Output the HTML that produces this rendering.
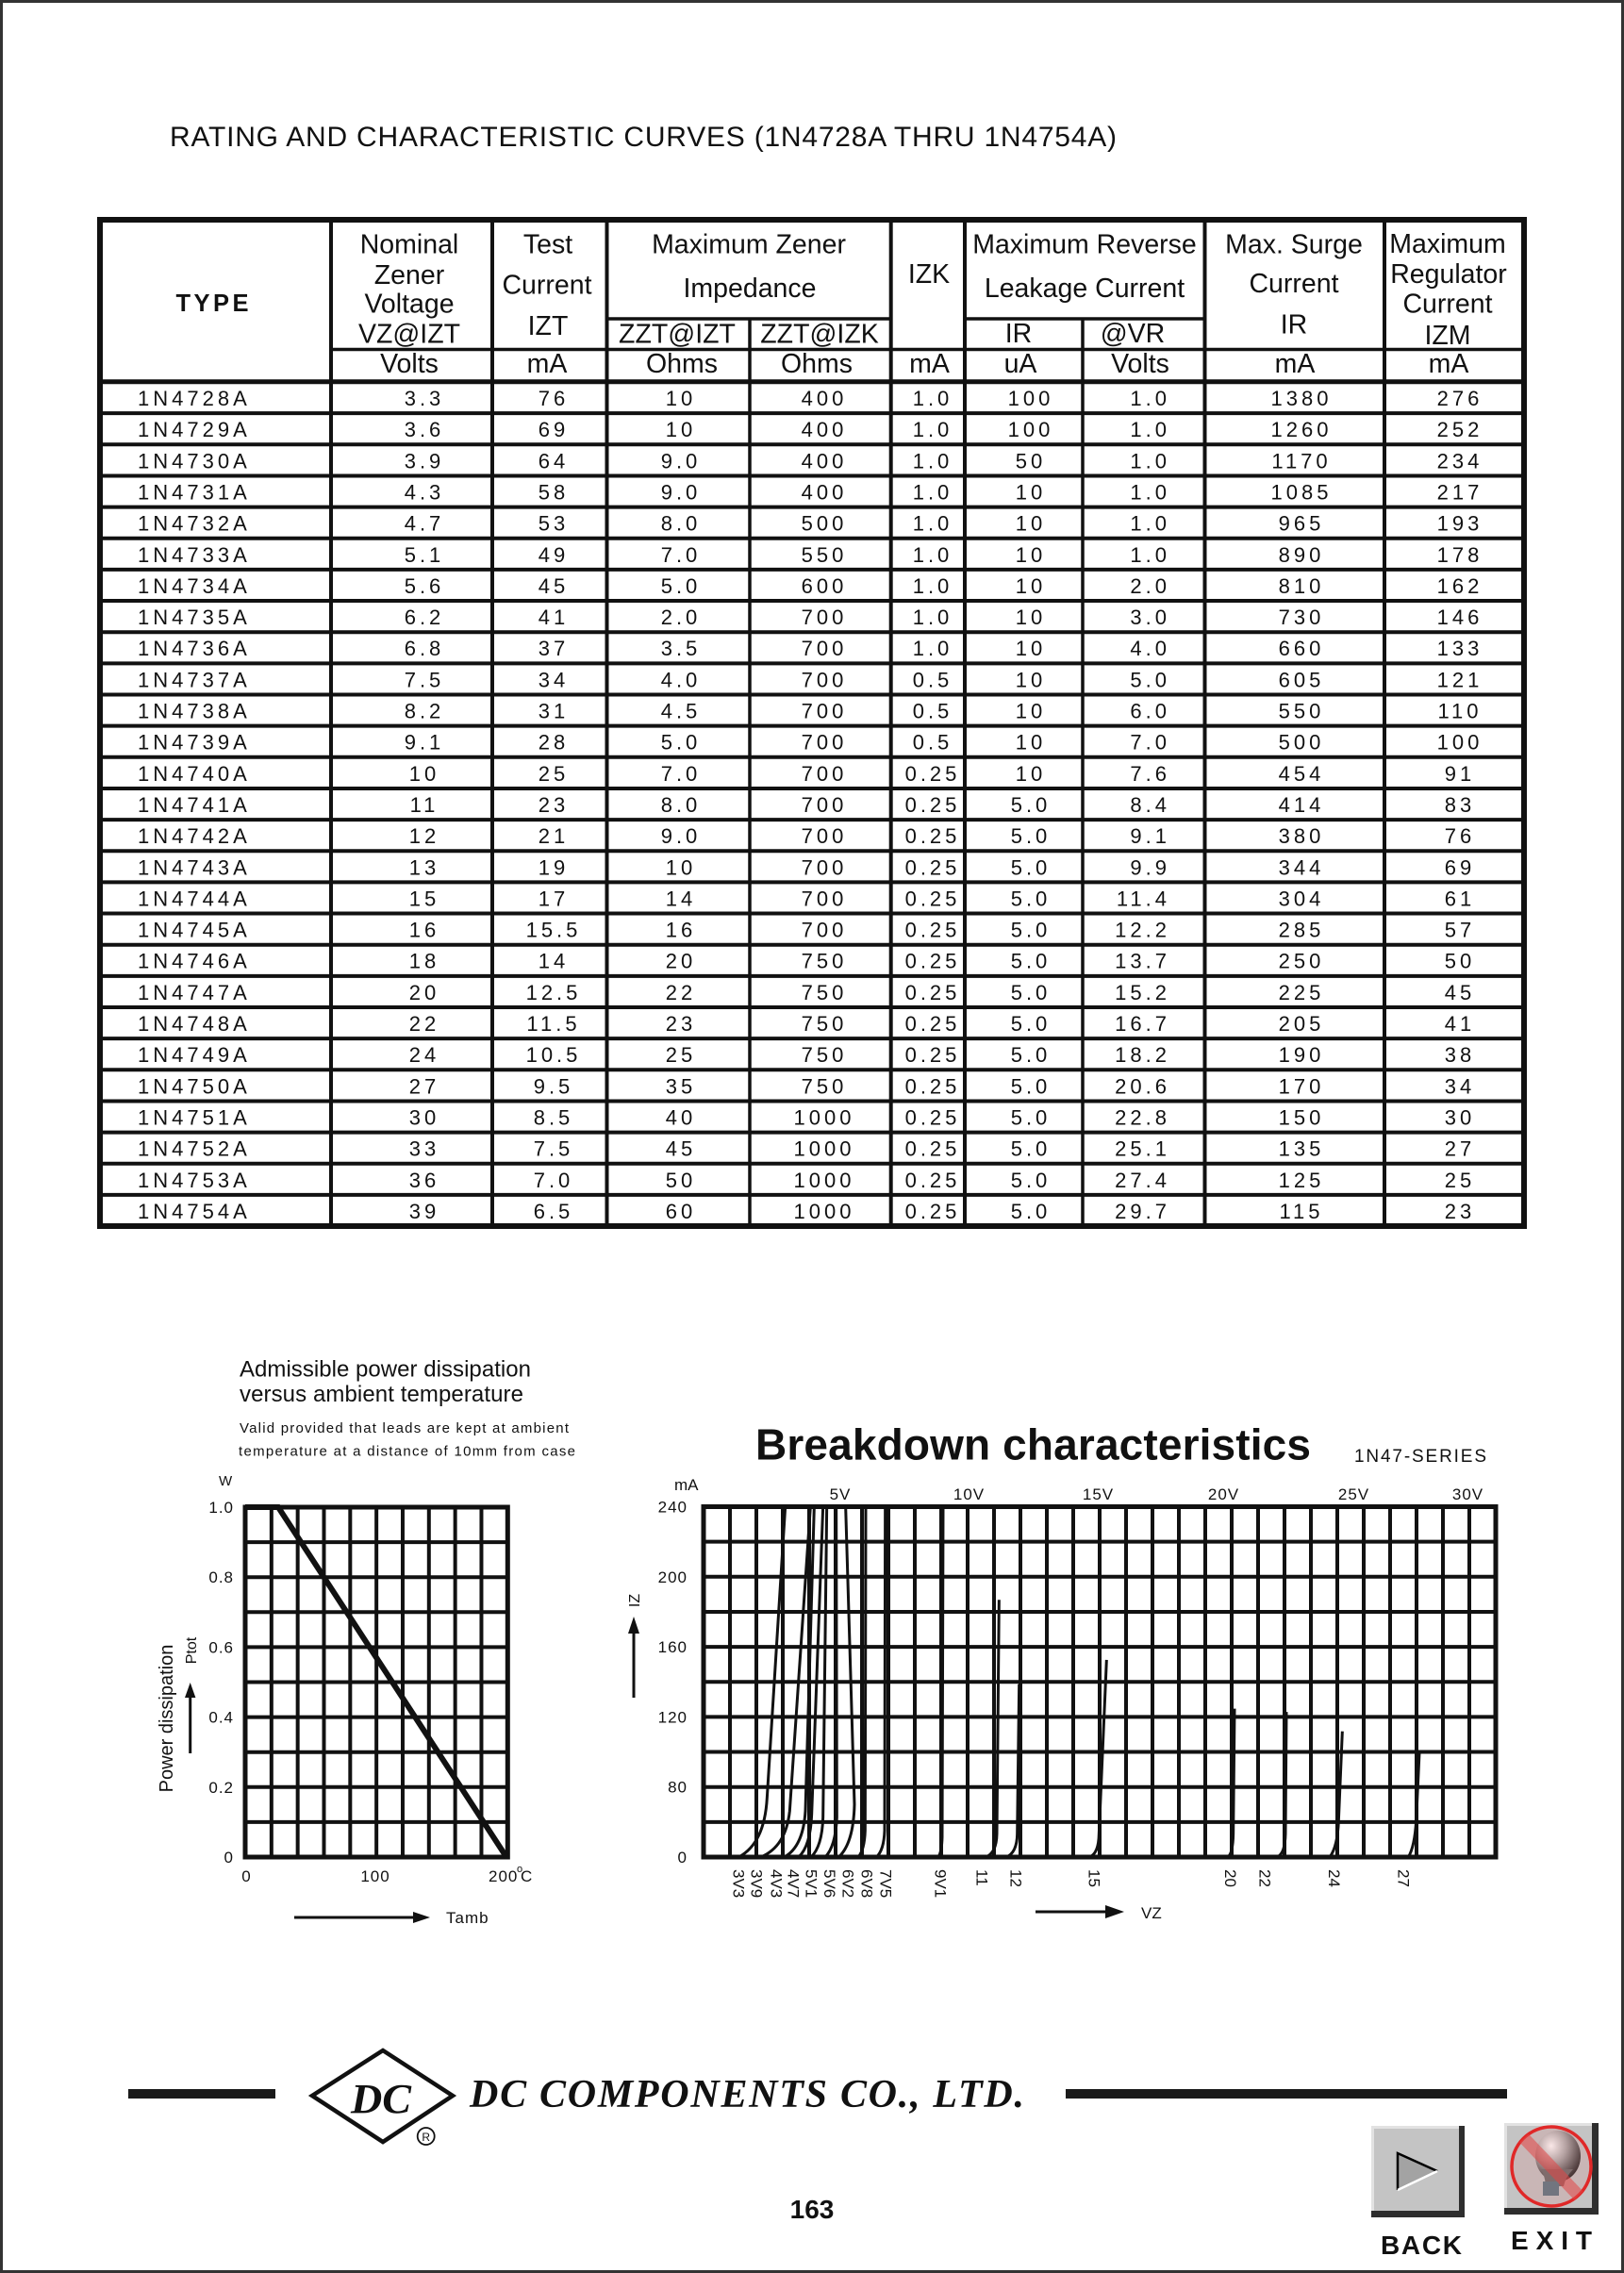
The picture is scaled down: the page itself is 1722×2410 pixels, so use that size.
<!DOCTYPE html>
<html><head><meta charset="utf-8">
<style>
html,body{margin:0;padding:0;background:#fff}
svg{display:block}
text{font-family:"Liberation Sans",Arial,sans-serif;fill:#111}
.d{font-size:22px;letter-spacing:4px}
.h{font-size:28.5px}
.m{text-anchor:middle}
.e{text-anchor:end}
.c path{vector-effect:non-scaling-stroke}
.ax{font-size:17px;letter-spacing:1px}
</style></head><body>
<svg width="1722" height="2410" viewBox="0 0 1722 2410" xmlns="http://www.w3.org/2000/svg">
<defs>
<radialGradient id="bg" cx="0.35" cy="0.3" r="0.75"><stop offset="0" stop-color="#fff"/><stop offset="0.45" stop-color="#a8a8a8"/><stop offset="1" stop-color="#222"/></radialGradient>
</defs>
<rect x="1.5" y="1.5" width="1719" height="2407" fill="none" stroke="#333" stroke-width="3"/>

<text x="180" y="155" font-size="30" textLength="1004" lengthAdjust="spacing">RATING AND CHARACTERISTIC CURVES (1N4728A THRU 1N4754A)</text>

<!-- TABLE LINES -->
<g stroke="#111" fill="none">
<rect x="106" y="233" width="1510" height="1067" stroke-width="6"/>
<path stroke-width="4" d="M351,233V1300M522,233V1300M643.5,233V1300M944.7,233V1300M1023,233V1300M1277.5,233V1300M1468,233V1300"/>
<path stroke-width="3.5" d="M795,338V1300M1148,338V1300M643.5,338H944.7M1023,338H1277.5M351,370.5H1616"/>
<path stroke-width="5" d="M106,404.8H1616"/>
<path stroke-width="4" d="M106,438.15H1616M106,471.3H1616M106,504.45H1616M106,537.6H1616M106,570.75H1616M106,603.9H1616M106,637.05H1616M106,670.2H1616M106,703.35H1616M106,736.5H1616M106,769.65H1616M106,802.8H1616M106,835.95H1616M106,869.1H1616M106,902.25H1616M106,935.4H1616M106,968.55H1616M106,1001.7H1616M106,1034.85H1616M106,1068H1616M106,1101.15H1616M106,1134.3H1616M106,1167.45H1616M106,1200.6H1616M106,1233.75H1616M106,1266.9H1616"/>
</g>

<!-- HEADER TEXT -->
<text x="225" y="330" font-size="25.5" font-weight="bold" class="m" textLength="77" lengthAdjust="spacing">TYPE</text>
<g class="h m">
<text x="434" y="268.3">Nominal</text>
<text x="434" y="301">Zener</text>
<text x="434" y="331.7">Voltage</text>
<text x="434" y="363.3">VZ@IZT</text>
<text x="434" y="395">Volts</text>
<text x="581" y="268.3">Test</text>
<text x="580" y="311.7">Current</text>
<text x="581" y="355">IZT</text>
<text x="580" y="395">mA</text>
<text x="794" y="268.3">Maximum Zener</text>
<text x="795" y="315">Impedance</text>
<text x="718" y="363.3">ZZT@IZT</text>
<text x="869" y="363.3">ZZT@IZK</text>
<text x="723" y="395">Ohms</text>
<text x="866" y="395">Ohms</text>
<text x="985" y="300">IZK</text>
<text x="985.5" y="395">mA</text>
<text x="1150" y="268.3">Maximum Reverse</text>
<text x="1150" y="315">Leakage Current</text>
<text x="1080" y="363">IR</text>
<text x="1201" y="363">@VR</text>
<text x="1082" y="395">uA</text>
<text x="1209" y="395">Volts</text>
<text x="1372" y="268.3">Max. Surge</text>
<text x="1372" y="310">Current</text>
<text x="1372" y="353.3">IR</text>
<text x="1373" y="395">mA</text>
<text x="1535" y="268">Maximum</text>
<text x="1536" y="300">Regulator</text>
<text x="1535" y="331.7">Current</text>
<text x="1535" y="365">IZM</text>
<text x="1536" y="395">mA</text>
</g>

<!-- DATA ROWS -->
<g class="d">
<g transform="translate(0,430)"><text x="146">1N4728A</text><text x="450" class="m">3.3</text><text x="587" class="m">76</text><text x="722" class="m">10</text><text x="874" class="m">400</text><text x="989" class="m">1.0</text><text x="1093" class="m">100</text><text x="1241" class="e">1.0</text><text x="1380" class="m">1380</text><text x="1548" class="m">276</text></g>
<g transform="translate(0,463.15)"><text x="146">1N4729A</text><text x="450" class="m">3.6</text><text x="587" class="m">69</text><text x="722" class="m">10</text><text x="874" class="m">400</text><text x="989" class="m">1.0</text><text x="1093" class="m">100</text><text x="1241" class="e">1.0</text><text x="1380" class="m">1260</text><text x="1548" class="m">252</text></g>
<g transform="translate(0,496.3)"><text x="146">1N4730A</text><text x="450" class="m">3.9</text><text x="587" class="m">64</text><text x="722" class="m">9.0</text><text x="874" class="m">400</text><text x="989" class="m">1.0</text><text x="1093" class="m">50</text><text x="1241" class="e">1.0</text><text x="1380" class="m">1170</text><text x="1548" class="m">234</text></g>
<g transform="translate(0,529.45)"><text x="146">1N4731A</text><text x="450" class="m">4.3</text><text x="587" class="m">58</text><text x="722" class="m">9.0</text><text x="874" class="m">400</text><text x="989" class="m">1.0</text><text x="1093" class="m">10</text><text x="1241" class="e">1.0</text><text x="1380" class="m">1085</text><text x="1548" class="m">217</text></g>
<g transform="translate(0,562.6)"><text x="146">1N4732A</text><text x="450" class="m">4.7</text><text x="587" class="m">53</text><text x="722" class="m">8.0</text><text x="874" class="m">500</text><text x="989" class="m">1.0</text><text x="1093" class="m">10</text><text x="1241" class="e">1.0</text><text x="1380" class="m">965</text><text x="1548" class="m">193</text></g>
<g transform="translate(0,595.75)"><text x="146">1N4733A</text><text x="450" class="m">5.1</text><text x="587" class="m">49</text><text x="722" class="m">7.0</text><text x="874" class="m">550</text><text x="989" class="m">1.0</text><text x="1093" class="m">10</text><text x="1241" class="e">1.0</text><text x="1380" class="m">890</text><text x="1548" class="m">178</text></g>
<g transform="translate(0,628.9)"><text x="146">1N4734A</text><text x="450" class="m">5.6</text><text x="587" class="m">45</text><text x="722" class="m">5.0</text><text x="874" class="m">600</text><text x="989" class="m">1.0</text><text x="1093" class="m">10</text><text x="1241" class="e">2.0</text><text x="1380" class="m">810</text><text x="1548" class="m">162</text></g>
<g transform="translate(0,662.05)"><text x="146">1N4735A</text><text x="450" class="m">6.2</text><text x="587" class="m">41</text><text x="722" class="m">2.0</text><text x="874" class="m">700</text><text x="989" class="m">1.0</text><text x="1093" class="m">10</text><text x="1241" class="e">3.0</text><text x="1380" class="m">730</text><text x="1548" class="m">146</text></g>
<g transform="translate(0,695.2)"><text x="146">1N4736A</text><text x="450" class="m">6.8</text><text x="587" class="m">37</text><text x="722" class="m">3.5</text><text x="874" class="m">700</text><text x="989" class="m">1.0</text><text x="1093" class="m">10</text><text x="1241" class="e">4.0</text><text x="1380" class="m">660</text><text x="1548" class="m">133</text></g>
<g transform="translate(0,728.35)"><text x="146">1N4737A</text><text x="450" class="m">7.5</text><text x="587" class="m">34</text><text x="722" class="m">4.0</text><text x="874" class="m">700</text><text x="989" class="m">0.5</text><text x="1093" class="m">10</text><text x="1241" class="e">5.0</text><text x="1380" class="m">605</text><text x="1548" class="m">121</text></g>
<g transform="translate(0,761.5)"><text x="146">1N4738A</text><text x="450" class="m">8.2</text><text x="587" class="m">31</text><text x="722" class="m">4.5</text><text x="874" class="m">700</text><text x="989" class="m">0.5</text><text x="1093" class="m">10</text><text x="1241" class="e">6.0</text><text x="1380" class="m">550</text><text x="1548" class="m">110</text></g>
<g transform="translate(0,794.65)"><text x="146">1N4739A</text><text x="450" class="m">9.1</text><text x="587" class="m">28</text><text x="722" class="m">5.0</text><text x="874" class="m">700</text><text x="989" class="m">0.5</text><text x="1093" class="m">10</text><text x="1241" class="e">7.0</text><text x="1380" class="m">500</text><text x="1548" class="m">100</text></g>
<g transform="translate(0,827.8)"><text x="146">1N4740A</text><text x="450" class="m">10</text><text x="587" class="m">25</text><text x="722" class="m">7.0</text><text x="874" class="m">700</text><text x="989" class="m">0.25</text><text x="1093" class="m">10</text><text x="1241" class="e">7.6</text><text x="1380" class="m">454</text><text x="1548" class="m">91</text></g>
<g transform="translate(0,860.95)"><text x="146">1N4741A</text><text x="450" class="m">11</text><text x="587" class="m">23</text><text x="722" class="m">8.0</text><text x="874" class="m">700</text><text x="989" class="m">0.25</text><text x="1093" class="m">5.0</text><text x="1241" class="e">8.4</text><text x="1380" class="m">414</text><text x="1548" class="m">83</text></g>
<g transform="translate(0,894.1)"><text x="146">1N4742A</text><text x="450" class="m">12</text><text x="587" class="m">21</text><text x="722" class="m">9.0</text><text x="874" class="m">700</text><text x="989" class="m">0.25</text><text x="1093" class="m">5.0</text><text x="1241" class="e">9.1</text><text x="1380" class="m">380</text><text x="1548" class="m">76</text></g>
<g transform="translate(0,927.25)"><text x="146">1N4743A</text><text x="450" class="m">13</text><text x="587" class="m">19</text><text x="722" class="m">10</text><text x="874" class="m">700</text><text x="989" class="m">0.25</text><text x="1093" class="m">5.0</text><text x="1241" class="e">9.9</text><text x="1380" class="m">344</text><text x="1548" class="m">69</text></g>
<g transform="translate(0,960.4)"><text x="146">1N4744A</text><text x="450" class="m">15</text><text x="587" class="m">17</text><text x="722" class="m">14</text><text x="874" class="m">700</text><text x="989" class="m">0.25</text><text x="1093" class="m">5.0</text><text x="1241" class="e">11.4</text><text x="1380" class="m">304</text><text x="1548" class="m">61</text></g>
<g transform="translate(0,993.55)"><text x="146">1N4745A</text><text x="450" class="m">16</text><text x="587" class="m">15.5</text><text x="722" class="m">16</text><text x="874" class="m">700</text><text x="989" class="m">0.25</text><text x="1093" class="m">5.0</text><text x="1241" class="e">12.2</text><text x="1380" class="m">285</text><text x="1548" class="m">57</text></g>
<g transform="translate(0,1026.7)"><text x="146">1N4746A</text><text x="450" class="m">18</text><text x="587" class="m">14</text><text x="722" class="m">20</text><text x="874" class="m">750</text><text x="989" class="m">0.25</text><text x="1093" class="m">5.0</text><text x="1241" class="e">13.7</text><text x="1380" class="m">250</text><text x="1548" class="m">50</text></g>
<g transform="translate(0,1059.85)"><text x="146">1N4747A</text><text x="450" class="m">20</text><text x="587" class="m">12.5</text><text x="722" class="m">22</text><text x="874" class="m">750</text><text x="989" class="m">0.25</text><text x="1093" class="m">5.0</text><text x="1241" class="e">15.2</text><text x="1380" class="m">225</text><text x="1548" class="m">45</text></g>
<g transform="translate(0,1093)"><text x="146">1N4748A</text><text x="450" class="m">22</text><text x="587" class="m">11.5</text><text x="722" class="m">23</text><text x="874" class="m">750</text><text x="989" class="m">0.25</text><text x="1093" class="m">5.0</text><text x="1241" class="e">16.7</text><text x="1380" class="m">205</text><text x="1548" class="m">41</text></g>
<g transform="translate(0,1126.15)"><text x="146">1N4749A</text><text x="450" class="m">24</text><text x="587" class="m">10.5</text><text x="722" class="m">25</text><text x="874" class="m">750</text><text x="989" class="m">0.25</text><text x="1093" class="m">5.0</text><text x="1241" class="e">18.2</text><text x="1380" class="m">190</text><text x="1548" class="m">38</text></g>
<g transform="translate(0,1159.3)"><text x="146">1N4750A</text><text x="450" class="m">27</text><text x="587" class="m">9.5</text><text x="722" class="m">35</text><text x="874" class="m">750</text><text x="989" class="m">0.25</text><text x="1093" class="m">5.0</text><text x="1241" class="e">20.6</text><text x="1380" class="m">170</text><text x="1548" class="m">34</text></g>
<g transform="translate(0,1192.45)"><text x="146">1N4751A</text><text x="450" class="m">30</text><text x="587" class="m">8.5</text><text x="722" class="m">40</text><text x="874" class="m">1000</text><text x="989" class="m">0.25</text><text x="1093" class="m">5.0</text><text x="1241" class="e">22.8</text><text x="1380" class="m">150</text><text x="1548" class="m">30</text></g>
<g transform="translate(0,1225.6)"><text x="146">1N4752A</text><text x="450" class="m">33</text><text x="587" class="m">7.5</text><text x="722" class="m">45</text><text x="874" class="m">1000</text><text x="989" class="m">0.25</text><text x="1093" class="m">5.0</text><text x="1241" class="e">25.1</text><text x="1380" class="m">135</text><text x="1548" class="m">27</text></g>
<g transform="translate(0,1258.75)"><text x="146">1N4753A</text><text x="450" class="m">36</text><text x="587" class="m">7.0</text><text x="722" class="m">50</text><text x="874" class="m">1000</text><text x="989" class="m">0.25</text><text x="1093" class="m">5.0</text><text x="1241" class="e">27.4</text><text x="1380" class="m">125</text><text x="1548" class="m">25</text></g>
<g transform="translate(0,1291.9)"><text x="146">1N4754A</text><text x="450" class="m">39</text><text x="587" class="m">6.5</text><text x="722" class="m">60</text><text x="874" class="m">1000</text><text x="989" class="m">0.25</text><text x="1093" class="m">5.0</text><text x="1241" class="e">29.7</text><text x="1380" class="m">115</text><text x="1548" class="m">23</text></g>
</g>

<!-- LEFT CHART -->
<text x="254" y="1459.5" font-size="24" textLength="309" lengthAdjust="spacing">Admissible power dissipation</text>
<text x="254" y="1486" font-size="24" textLength="301" lengthAdjust="spacing">versus ambient temperature</text>
<text x="254" y="1519" font-size="15" textLength="349" lengthAdjust="spacing">Valid provided that leads are kept at ambient</text>
<text x="253" y="1543.5" font-size="15" textLength="357" lengthAdjust="spacing">temperature at a distance of 10mm from case</text>
<text x="232" y="1575" font-size="15">W</text>
<g stroke="#111" fill="none" stroke-width="4">
<path d="M287.83,1598V1969M315.66,1598V1969M343.49,1598V1969M371.32,1598V1969M399.15,1598V1969M426.98,1598V1969M454.81,1598V1969M482.64,1598V1969M510.47,1598V1969"/>
<path d="M260,1635.1H538.3M260,1672.2H538.3M260,1709.3H538.3M260,1746.4H538.3M260,1783.5H538.3M260,1820.6H538.3M260,1857.7H538.3M260,1894.8H538.3M260,1931.9H538.3"/>
<rect x="260" y="1598" width="278.3" height="371" stroke-width="5"/>
<polyline points="260,1598 295,1598 537,1969" stroke-width="6"/>
</g>
<g class="ax e">
<text x="248" y="1604">1.0</text>
<text x="248" y="1678.2">0.8</text>
<text x="248" y="1752.4">0.6</text>
<text x="248" y="1826.6">0.4</text>
<text x="248" y="1900.8">0.2</text>
<text x="248" y="1975">0</text>
</g>
<g class="ax">
<text x="261.5" y="1995" class="m">0</text>
<text x="398" y="1995" class="m">100</text>
<text x="518" y="1995">200</text>
<text x="548" y="1985" font-size="11">o</text>
<text x="552" y="1995">C</text>
<text x="473" y="2039">Tamb</text>
</g>
<line x1="312" y1="2033" x2="442" y2="2033" stroke="#111" stroke-width="3"/>
<polygon points="438,2027 456,2033 438,2039" fill="#111"/>
<text x="183" y="1822" font-size="20" class="m" transform="rotate(-90 183 1822)">Power dissipation</text>
<text x="208" y="1750" font-size="16" class="m" transform="rotate(-90 208 1750)">Ptot</text>
<line x1="201.7" y1="1859" x2="201.7" y2="1798" stroke="#111" stroke-width="3"/>
<polygon points="196,1800 201.7,1784 207.4,1800" fill="#111"/>

<!-- RIGHT CHART -->
<text x="801" y="1547.5" font-size="46" font-weight="bold" textLength="589" lengthAdjust="spacing">Breakdown characteristics</text>
<text x="1436" y="1550" font-size="19" textLength="140" lengthAdjust="spacing">1N47-SERIES</text>
<g class="ax">
<text x="715" y="1580" letter-spacing="0">mA</text>
<text x="891" y="1590" class="m">5V</text>
<text x="1027.5" y="1590" class="m">10V</text>
<text x="1164.5" y="1590" class="m">15V</text>
<text x="1297.5" y="1590" class="m">20V</text>
<text x="1435.5" y="1590" class="m">25V</text>
<text x="1556.5" y="1590" class="m">30V</text>
</g>
<g class="ax e">
<text x="729" y="1603.5">240</text>
<text x="729" y="1677.8">200</text>
<text x="729" y="1752.1">160</text>
<text x="729" y="1826.4">120</text>
<text x="729" y="1900.7">80</text>
<text x="729" y="1975">0</text>
</g>
<g stroke="#111" fill="none" stroke-width="4">
<path d="M774,1597.5V1969M802,1597.5V1969M830,1597.5V1969M858,1597.5V1969M886,1597.5V1969M914,1597.5V1969M942,1597.5V1969M970,1597.5V1969M998,1597.5V1969M1026,1597.5V1969M1054,1597.5V1969M1082,1597.5V1969M1110,1597.5V1969M1138,1597.5V1969M1166,1597.5V1969M1194,1597.5V1969M1222,1597.5V1969M1250,1597.5V1969M1278,1597.5V1969M1306,1597.5V1969M1334,1597.5V1969M1362,1597.5V1969M1390,1597.5V1969M1418,1597.5V1969M1446,1597.5V1969M1474,1597.5V1969M1502,1597.5V1969M1530,1597.5V1969M1558,1597.5V1969"/>
<path d="M746,1634.65H1586M746,1671.8H1586M746,1708.95H1586M746,1746.1H1586M746,1783.25H1586M746,1820.4H1586M746,1857.55H1586M746,1894.7H1586M746,1931.85H1586"/>
<rect x="746" y="1597.5" width="840" height="371.5" stroke-width="5"/>
</g>
<g class="c" transform="translate(690,1500) scale(0.333333,0.344353)" fill="none" stroke="#111" stroke-width="3">
<path d="M280,1362 Q362,1320 370,1180 L428,283"/>
<path d="M350,1362 Q430,1330 442,1220 L508,283"/>
<path d="M425,1362 Q485,1330 492,1220 L520,283"/>
<path d="M470,1362 Q508,1330 512,1230 L548,283"/>
<path d="M510,1362 Q545,1330 548,1240 L560,283"/>
<path d="M555,1362 Q588,1330 592,1240 L590,283"/>
<path d="M598,1362 Q645,1320 648,1200 L620,283"/>
<path d="M660,1362 Q680,1340 682,1280 L684,283"/>
<path d="M718,1362 Q742,1340 744,1280 L746,283"/>
<path d="M915,1362 Q926,1345 927,1300 L930,283"/>
<path d="M1065,1362 Q1100,1350 1101,1290 L1108,570"/>
<path d="M1130,1362 Q1165,1350 1166,1290 L1172,830"/>
</g>
<g class="c" transform="translate(1150,1500) scale(0.333333,0.344353)" fill="none" stroke="#111" stroke-width="3">
<path d="M15,1362 Q45,1352 46,1290 L70,755"/>
<path d="M455,1362 Q472,1352 473,1290 L477,905"/>
<path d="M612,1362 Q638,1352 639,1290 L642,915"/>
<path d="M780,1362 Q805,1330 808,1250 L820,975"/>
<path d="M1030,1362 Q1050,1330 1055,1250 L1065,1040"/>
</g>
<g font-size="17">
<text transform="translate(777.3,1982) rotate(90)">3V3</text>
<text transform="translate(796.7,1982) rotate(90)">3V9</text>
<text transform="translate(817.3,1982) rotate(90)">4V3</text>
<text transform="translate(835.7,1982) rotate(90)">4V7</text>
<text transform="translate(854.7,1982) rotate(90)">5V1</text>
<text transform="translate(874,1982) rotate(90)">5V6</text>
<text transform="translate(893.3,1982) rotate(90)">6V2</text>
<text transform="translate(913.3,1982) rotate(90)">6V8</text>
<text transform="translate(933.3,1982) rotate(90)">7V5</text>
<text transform="translate(991.3,1982) rotate(90)">9V1</text>
<text transform="translate(1035.7,1982) rotate(90)">11</text>
<text transform="translate(1071.3,1982) rotate(90)">12</text>
<text transform="translate(1154.7,1982) rotate(90)">15</text>
<text transform="translate(1299,1982) rotate(90)">20</text>
<text transform="translate(1335.7,1982) rotate(90)">22</text>
<text transform="translate(1409,1982) rotate(90)">24</text>
<text transform="translate(1482.3,1982) rotate(90)">27</text>
</g>
<line x1="1098" y1="2027" x2="1175" y2="2027" stroke="#111" stroke-width="3"/>
<polygon points="1172,2020 1192,2027 1172,2034" fill="#111"/>
<text x="1210" y="2034" font-size="17">VZ</text>
<text x="678" y="1697" font-size="16" class="m" transform="rotate(-90 678 1697)">IZ</text>
<line x1="672" y1="1800" x2="672" y2="1730" stroke="#111" stroke-width="3"/>
<polygon points="666,1732 672,1714 678,1732" fill="#111"/>

<!-- FOOTER -->
<rect x="136" y="2215" width="156" height="10" fill="#1a1a1a"/>
<rect x="1130" y="2215" width="468" height="10" fill="#1a1a1a"/>
<polygon points="331,2222 406,2174 480,2222 406,2271" fill="none" stroke="#111" stroke-width="4.5"/>
<text x="404" y="2240" font-style="italic" font-weight="bold" font-size="44" class="m" textLength="64" lengthAdjust="spacingAndGlyphs" style="font-family:'Liberation Serif',serif">DC</text>
<circle cx="451.7" cy="2265" r="9" fill="none" stroke="#111" stroke-width="1.8"/>
<text x="451.7" y="2270" font-size="12" class="m">R</text>
<text x="498" y="2234" font-size="42" font-weight="bold" font-style="italic" textLength="588" lengthAdjust="spacing" style="font-family:'Liberation Serif',serif">DC COMPONENTS CO., LTD.</text>
<text x="861" y="2352" font-size="28" font-weight="bold" class="m">163</text>

<!-- BUTTONS -->
<rect x="1454" y="2254" width="99" height="97" fill="#2e2e2e"/>
<rect x="1454" y="2254" width="93" height="90" fill="#c4c4c4"/>
<path d="M1455.5,2344V2255.5H1547" stroke="#e2e2e2" stroke-width="3" fill="none"/>
<polygon points="1482,2283 1524,2302 1482,2322" fill="#a3a3a3"/>
<path d="M1482,2322V2283L1524,2302" stroke="#000" stroke-width="2.5" fill="none"/>
<path d="M1482,2322L1524,2302" stroke="#fff" stroke-width="2.5" fill="none"/>
<text x="1464" y="2390" font-size="28" font-weight="bold" textLength="86" lengthAdjust="spacing">BACK</text>

<rect x="1595" y="2251" width="100" height="97" fill="#2e2e2e"/>
<rect x="1595" y="2251" width="93" height="90" fill="#c4c4c4"/>
<path d="M1596.5,2341V2252.5H1688" stroke="#e2e2e2" stroke-width="3" fill="none"/>
<ellipse cx="1652" cy="2286" rx="24" ry="27" fill="url(#bg)"/>
<path d="M1634,2300 Q1640,2312 1638,2318 L1658,2318 Q1660,2308 1668,2300 Z" fill="#6a6a6a"/>
<rect x="1636" y="2313" width="17" height="15" fill="#5a7480"/>
<circle cx="1645" cy="2297" r="42" fill="rgba(230,120,120,0.18)" stroke="#e02828" stroke-width="3.5"/>
<line x1="1616" y1="2267" x2="1674" y2="2328" stroke="rgba(225,70,70,0.55)" stroke-width="13"/>
<text x="1602" y="2385" font-size="28" font-weight="bold" textLength="86" lengthAdjust="spacing">EXIT</text>
</svg>
</body></html>
